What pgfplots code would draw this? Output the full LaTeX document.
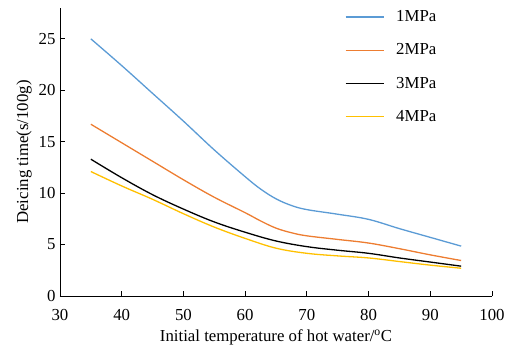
\documentclass[border=0pt]{standalone}
\usepackage{fontspec}
\setmainfont{Liberation Serif}
\usepackage{pgfplots}
\pgfplotsset{compat=1.18}
\definecolor{cblue}{HTML}{5B9BD5}
\definecolor{corange}{HTML}{ED7D31}
\definecolor{cyellow}{HTML}{FFC000}
\begin{document}
\begin{tikzpicture}
\useasboundingbox (-60pt,-55pt) rectangle (458pt,296pt);
\begin{axis}[
  scale only axis, width=432pt, height=288pt,
  xmin=30, xmax=100, ymin=0, ymax=28,
  axis x line*=bottom, axis y line*=left,
  xtick={30,40,...,100}, ytick={0,5,...,25},
  tick align=inside, major tick length=5pt,
  tick style={black, line width=0.8pt},
  axis line style={black, line width=0.8pt},
  tick label style={font=\fontsize{16.8}{18}\selectfont},
  label style={font=\fontsize{16.8}{18}\selectfont},
  /pgf/number format/assume math mode=true,
  xlabel={Initial temperature of hot water/\textsuperscript{o}C},
  ylabel={Deicing time(s/100g)},
  xticklabel style={yshift=-10pt},
  yticklabel style={xshift=-1pt},
  xlabel style={yshift=-2pt},
  legend style={draw=none, fill=none, at={(0.652,1.005)}, anchor=north west,
    row sep=16.5pt, font=\fontsize{16.8}{18}\selectfont,
    /tikz/every odd column/.append style={column sep=10pt}},
  legend cell align=left,
  legend image code/.code={\draw[#1, line width=1.3pt] (0pt,0pt) -- (38pt,0pt);},
  every axis plot/.append style={line width=1.3pt, smooth, tension=0.6},
]
\addplot[cblue] coordinates {(35,25.0) (40,22.4) (45,19.7) (50,17.0) (55,14.2) (60,11.6) (62.5,10.4) (65,9.45) (67.5,8.8) (70,8.4) (75,7.95) (80,7.45) (85,6.55) (90,5.7) (95,4.85)};
\addlegendentry{1MPa}
\addplot[corange] coordinates {(35,16.7) (40,14.9) (45,13.1) (50,11.3) (55,9.6) (60,8.1) (62.5,7.3) (65,6.6) (67.5,6.15) (70,5.85) (75,5.5) (80,5.15) (85,4.6) (90,4.0) (95,3.45)};
\addlegendentry{2MPa}
\addplot[black] coordinates {(35,13.3) (40,11.5) (45,9.85) (50,8.45) (55,7.2) (60,6.2) (65,5.35) (70,4.8) (75,4.45) (80,4.15) (85,3.7) (90,3.3) (95,2.9)};
\addlegendentry{3MPa}
\addplot[cyellow] coordinates {(35,12.1) (40,10.7) (45,9.4) (50,8.0) (55,6.7) (60,5.6) (65,4.65) (70,4.15) (75,3.9) (80,3.7) (85,3.35) (90,3.0) (95,2.7)};
\addlegendentry{4MPa}
\end{axis}
\end{tikzpicture}
\end{document}
